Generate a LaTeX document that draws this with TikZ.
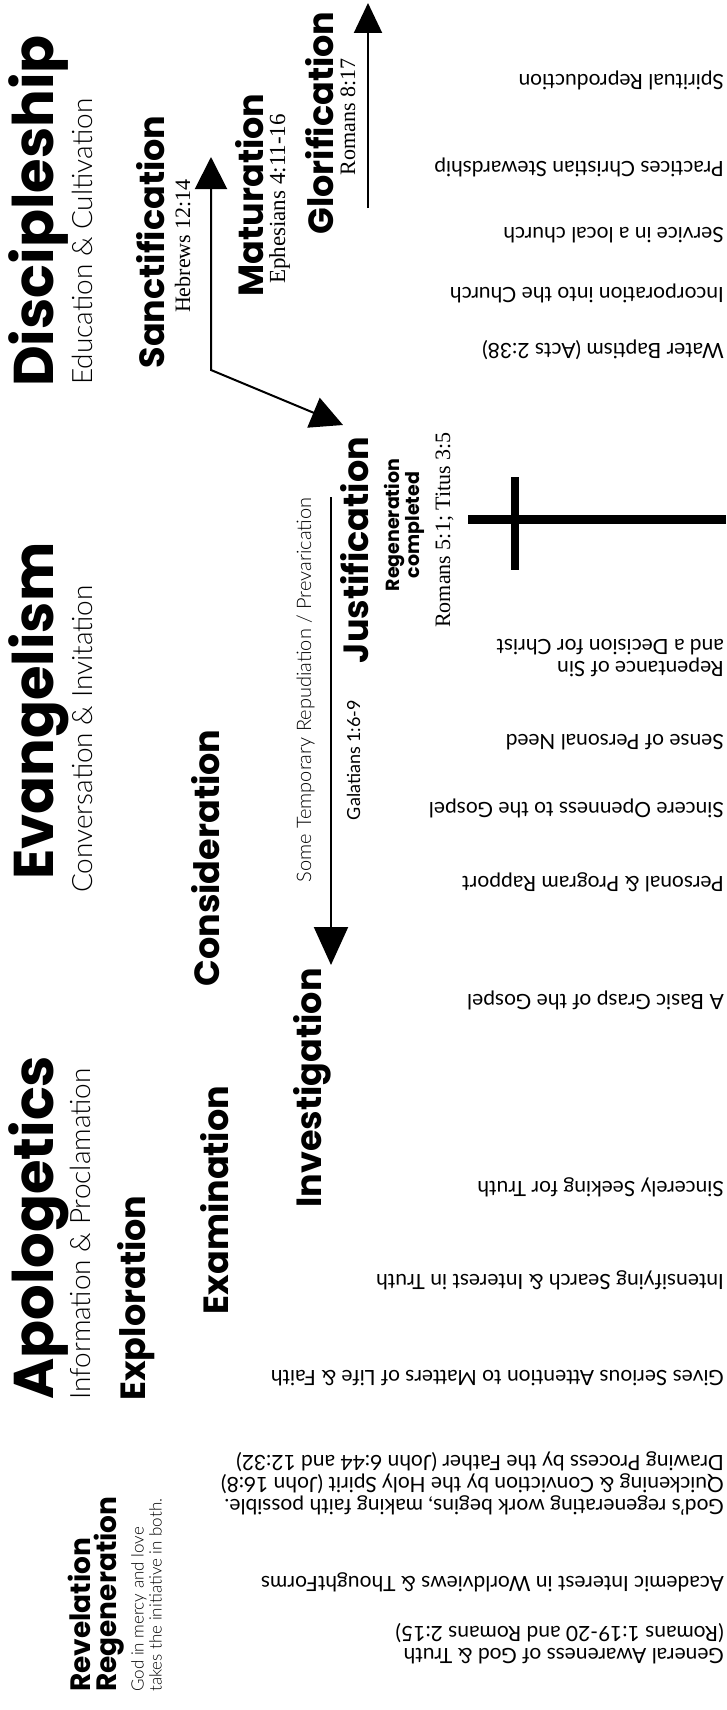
\documentclass[tikz,border=0pt]{standalone}
\usepackage{fontspec}
\setmainfont{Lato}
\newfontfamily\headfont{Poppins}
\newfontfamily\lightfont{Lato Light}
\newfontfamily\reffont{Liberation Serif}
\usepackage{tikz}
\usetikzlibrary{arrows.meta}

\begin{document}
\begin{tikzpicture}[x=1pt, y=-1pt,
            heading/.style={rotate=90, anchor=base west, inner sep=0pt, font=\headfont\bfseries\fontsize{56}{56}\selectfont},
            subheading/.style={rotate=90, anchor=base west, inner sep=0pt, font=\lightfont\fontsize{28}{28}\selectfont},
            stage/.style={rotate=90, anchor=base, inner sep=0pt, font=\headfont\bfseries\fontsize{35}{35}\selectfont},
            ref/.style={rotate=90, anchor=base, inner sep=0pt, font=\reffont\fontsize{22}{22}\selectfont},
            note/.style={rotate=180, anchor=west, inner sep=0pt, align=left, font=\fontsize{21}{22}\selectfont},
            bigarrow/.style={line width=2pt, -{Triangle[width=34pt,length=38pt]}}]
            \useasboundingbox (0,0) rectangle (726,1710);

            \draw (53,387)   node[heading]                     (disc)   {Discipleship};
            \draw (92,385)   node[subheading]                  (educ)   {Education \& Cultivation};
            \draw (53,880)   node[heading]                     (evang)  {Evangelism};
            \draw (92,893)   node[subheading]                  (conv)   {Conversation \& Invitation};
            \draw (53,1400)  node[heading]                     (apol)   {Apologetics};
            \draw (90,1400)  node[subheading]                  (info)   {Information \& Proclamation};

            \draw (90,1692)  node[stage, anchor=base west, font=\headfont\bfseries\fontsize{28}{28}\selectfont] (revel)  {Revelation};
            \draw (116,1692) node[stage, anchor=base west, font=\headfont\bfseries\fontsize{28}{28}\selectfont] (regen)  {Regeneration};
            \draw (131,1692) node[rotate=90, anchor=north west, inner sep=0pt, align=left, font=\lightfont\fontsize{17}{18}\selectfont] (mercy) {God in mercy and love\\takes the initiative in both.};
            \draw (145,1298) node[stage]                       (explor) {Exploration};
            \draw (228,1200) node[stage]                       (exam)   {Examination};
            \draw (321,1088) node[stage]                       (invest) {Investigation};
            \draw (219,858)  node[stage]                       (consid) {Consideration};
            \draw (368,550)  node[stage]                       (justif) {Justification};
            \draw (404,525)  node[rotate=90, inner sep=0pt, align=center, font=\headfont\bfseries\fontsize{19}{20}\selectfont] (compl) {Regeneration\\completed};
            \draw (450,530)  node[ref]                         (rom51)  {Romans 5:1; Titus 3:5};
            \draw (164,242)  node[stage]                       (sanct)  {Sanctification};
            \draw (190,246)  node[ref]                         (heb)    {Hebrews 12:14};
            \draw (263,195)  node[stage]                       (matur)  {Maturation};
            \draw (285,199)  node[ref, font=\reffont\fontsize{23}{23}\selectfont] (eph) {Ephesians 4:11-16};
            \draw (333,123)  node[stage]                       (glor)   {Glorification};
            \draw (355,117)  node[ref]                         (rom817) {Romans 8:17};
            \draw (311,690)  node[rotate=90, anchor=base, inner sep=0pt, font=\lightfont\fontsize{20}{20}\selectfont] (repud) {Some Temporary Repudiation / Prevarication};
            \draw (360,760)  node[rotate=90, anchor=base, inner sep=0pt, font=\fontsize{18}{18}\selectfont] (gal) {Galatians 1:6-9};

            \draw (724,80)   node[note] (spirit)  {Spiritual Reproduction};
            \draw (724,167)  node[note] (steward) {Practices Christian Stewardship};
            \draw (724,235)  node[note] (service) {Service in a local church};
            \draw (724,293)  node[note] (incorp)  {Incorporation into the Church};
            \draw (724,350)  node[note] (baptism) {Water Baptism (Acts 2:38)};
            \draw (724,658)  node[note] (repent)  {Repentance of Sin\\and a Decision for Christ};
            \draw (724,742)  node[note] (need)    {Sense of Personal Need};
            \draw (724,808)  node[note] (open)    {Sincere Openness to the Gospel};
            \draw (724,882)  node[note] (rapport) {Personal \& Program Rapport};
            \draw (724,1000) node[note] (grasp)   {A Basic Grasp of the Gospel};
            \draw (724,1187) node[note] (seek)    {Sincerely Seeking for Truth};
            \draw (724,1280) node[note] (search)  {Intensifying Search \& Interest in Truth};
            \draw (724,1378) node[note] (attend)  {Gives Serious Attention to Matters of Life \& Faith};
            \draw (724,1484) node[note] (drawing) {God's regenerating work begins, making faith possible.\\Quickening \& Conviction by the Holy Spirit (John 16:8)\\Drawing Process by the Father (John 6:44 and 12:32)};
            \draw (724,1582) node[note] (academ)  {Academic Interest in Worldviews \& ThoughtForms};
            \draw (724,1644) node[note] (aware)   {General Awareness of God \& Truth\\(Romans 1:19-20 and Romans 2:15)};

            \coordinate (sancttip) at (211,157);
            \coordinate (bend)     at (211,370);
            \coordinate (justtip)  at (343,425);
            \coordinate (glofoot)  at (368,208);
            \coordinate (glotip)   at (368,3);
            \coordinate (repfoot)  at (331,497);
            \coordinate (reptip)   at (331,965);
            \draw[line width=2pt, {Triangle[width=32pt,length=32pt]}-{Triangle[width=32pt,length=32pt]}] (sancttip) -- (bend) -- (justtip);
            \draw[line width=2pt, -{Triangle[width=28pt,length=30pt]}] (glofoot) -- (glotip);
            \draw[bigarrow] (repfoot) -- (reptip);

            \draw[line width=9pt] (468,519) -- (726,519);
            \draw[line width=8pt] (515,477) -- (515,570);
\end{tikzpicture}
\end{document}
